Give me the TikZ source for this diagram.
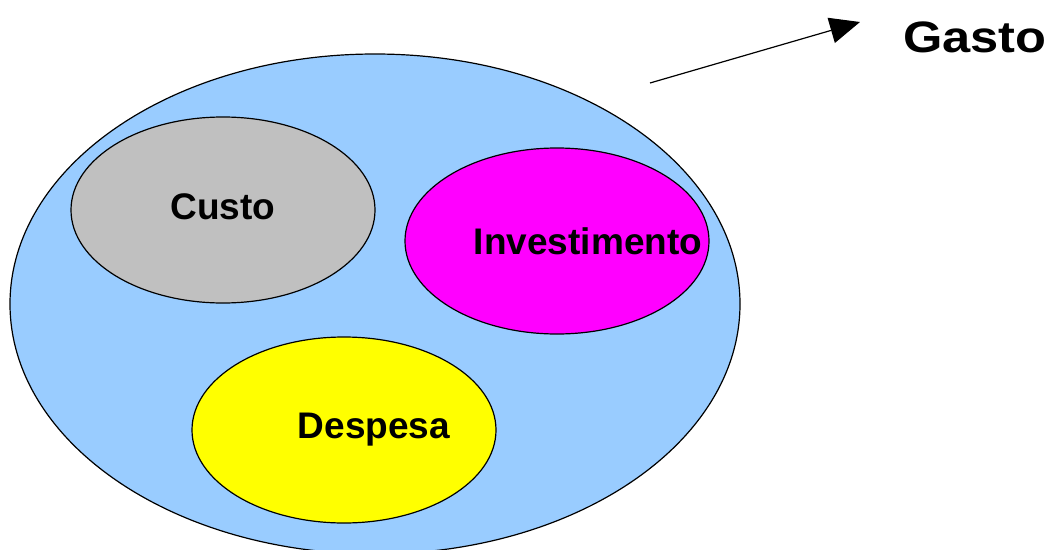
\documentclass[tikz,border=0pt]{standalone}
\usepackage{fontspec}
\setmainfont{Liberation Sans}
\usetikzlibrary{shapes.geometric, arrows.meta, calc}
\definecolor{myblue}{RGB}{153,204,255}
\definecolor{mygray}{RGB}{192,192,192}
\definecolor{mymagenta}{RGB}{255,0,255}
\definecolor{myyellow}{RGB}{255,255,0}

\tikzset{
    set/.style={ellipse, draw=black, line width=1.2pt, inner sep=0pt},
    subset/.style={set, minimum width=304pt, minimum height=186pt},
    lbl/.style={font=\fontsize{37}{37}\selectfont\bfseries, inner sep=0pt}
}

\begin{document}
\begin{tikzpicture}[x=1pt, y=-1pt]
    \useasboundingbox (0, 0) rectangle (1055, 549);
    \begin{scope}
        % Outer set
        \node[set, fill=myblue, minimum width=730pt, minimum height=500pt] (gasto set) at (375, 304) {};
        % Inner sets
        \node[subset, fill=mygray] (custo) at (223, 210) {};
        \node[subset, fill=mymagenta] (invest) at (557, 241) {};
        \node[subset, fill=myyellow] (despesa) at (344, 430) {};
        % Labels
        \node[lbl] at ($(custo) + (0, -3)$) {Custo};
        \node[lbl] at ($(invest) + (31, 0)$) {Investimento};
        \node[lbl] at ($(despesa) + (30, 0)$) {Despesa};
    \end{scope}
    \begin{scope}
        % Title and arrow
        \node[font=\fontsize{44}{44}\selectfont\bfseries, inner sep=0pt, xscale=1.15] (gasto) at (975, 37) {Gasto};
        \coordinate (src) at (650, 83);
        \coordinate (tip) at (860, 22);
        \draw[line width=1.2pt, -{Triangle[length=30pt, width=26pt]}] (src) -- (tip);
    \end{scope}
\end{tikzpicture}
\end{document}
